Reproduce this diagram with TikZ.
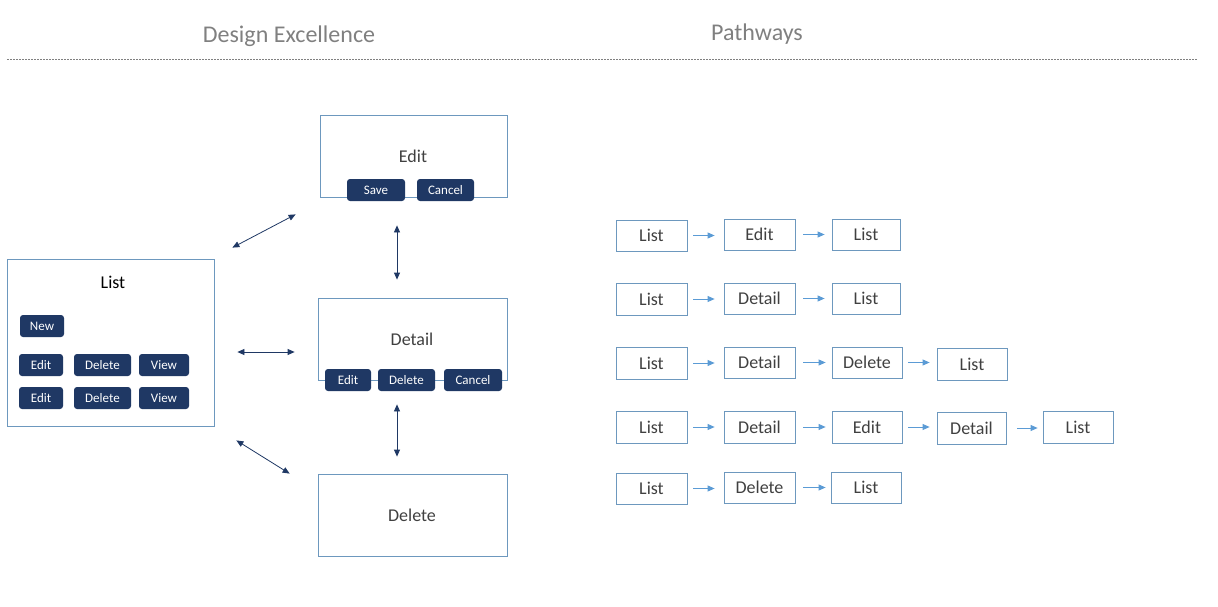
\documentclass[tikz,border=0pt]{standalone}
\usepackage{fontspec}
\setmainfont{Carlito}
\usetikzlibrary{arrows.meta}
\definecolor{bord}{RGB}{109,152,190}
\definecolor{navy}{RGB}{31,56,100}
\definecolor{parrow}{RGB}{91,155,213}
\definecolor{titlegray}{RGB}{128,128,128}
\definecolor{txt}{RGB}{64,64,64}
\newcommand\bxx[6][]{%
  \node[#1, minimum width={(#5-#3)*1pt}, minimum height={(#6-#4)*1pt}]
    (#2) at ({(#3+#5)/2},{(#4+#6)/2}) {};}
\tikzset{
  screen/.style={draw=bord, line width=0.8pt, fill=white, inner sep=0pt},
  pbx/.style={draw=bord, line width=0.8pt, inner sep=0pt},
  btn/.style={fill=navy, rounded corners=3pt, inner sep=0pt},
  btntext/.style={text=white, font=\fontsize{13}{15}\selectfont},
  boxtext/.style={text=txt, font=\fontsize{18}{21}\selectfont},
  darr/.style={navy, line width=0.8pt, {Triangle[width=6pt,length=7pt]}-{Triangle[width=6pt,length=7pt]}},
  parr/.style={parrow, line width=0.8pt, -{Triangle[width=6pt,length=7pt]}},
}
\begin{document}
\begin{tikzpicture}[x=1pt,y=-1pt]
\useasboundingbox (0,0) rectangle (1218,607);
% titles
\node[text=titlegray, font=\fontsize{24}{28}\selectfont] (t1) at (289,36) {Design Excellence};
\node[text=titlegray, font=\fontsize{24}{28}\selectfont] (t2) at (757,34) {Pathways};
\coordinate (dl) at (7,59);
\coordinate (dr) at (1198,59);
\draw[titlegray, line width=0.7pt, dash pattern=on 1.5pt off 1.5pt] (dl) -- (dr);

% Design excellence screens
\bxx[screen]{list}{7}{259}{214}{426}
\node[font=\fontsize{18}{21}\selectfont, text=black] (listt) at (113,282) {List};
\bxx[btn]{bnew}{20}{315}{64}{337}
\node[btntext] at (bnew) {New};
\bxx[btn]{be1}{19}{354}{63}{376}
\node[btntext] at (be1) {Edit};
\bxx[btn]{bd1}{74}{354}{131}{376}
\node[btntext] at (bd1) {Delete};
\bxx[btn]{bv1}{139}{354}{189}{376}
\node[btntext] at (bv1) {View};
\bxx[btn]{be2}{19}{387}{63}{409}
\node[btntext] at (be2) {Edit};
\bxx[btn]{bd2}{74}{387}{131}{409}
\node[btntext] at (bd2) {Delete};
\bxx[btn]{bv2}{139}{387}{189}{409}
\node[btntext] at (bv2) {View};

\bxx[screen]{edit}{320}{115}{507}{197}
\node[boxtext] at (413,156) {Edit};
\bxx[btn]{bsave}{347}{179}{405}{201}
\node[btntext] at (bsave) {Save};
\bxx[btn]{bcan1}{417}{179}{474}{201}
\node[btntext] at (bcan1) {Cancel};

\bxx[screen]{detail}{318}{298}{507}{380}
\node[boxtext] at (412,339) {Detail};
\bxx[btn]{bde}{325}{369}{371}{391}
\node[btntext] at (bde) {Edit};
\bxx[btn]{bdd}{378}{369}{435}{391}
\node[btntext] at (bdd) {Delete};
\bxx[btn]{bdc}{444}{369}{502}{391}
\node[btntext] at (bdc) {Cancel};

\bxx[screen]{delete}{318}{474}{507}{556}
\node[boxtext] at (412,515) {Delete};

% navy double arrows
\draw[darr] ([shift={(18,-11)}]list.north east) -- ([shift={(-24,17)}]edit.south west);
\draw[darr] ([shift={(23,9.5)}]list.east) -- ([shift={(-23,13)}]detail.west);
\draw[darr] ([shift={(22,14)}]list.south east) -- ([shift={(-28,0)}]delete.north west);
\draw[darr] ([shift={(-16.5,28)}]edit.south) -- ([shift={(-15.5,-18)}]detail.north);
\draw[darr] ([shift={(-15.5,24)}]detail.south) -- ([shift={(-15.5,-17)}]delete.north);

% Pathways
% row 1
\bxx[pbx]{a1}{616}{220}{687}{251}\node[boxtext] at (a1) {List};
\bxx[pbx]{a2}{724}{219}{795}{250}\node[boxtext] at (a2) {Edit};
\bxx[pbx]{a3}{832}{219}{900}{250}\node[boxtext] at (a3) {List};
\draw[parr] ([xshift=6pt]a1.east) -- ([xshift=-9pt]a2.west |- a1.east);
\draw[parr] ([xshift=8pt]a2.east) -- ([xshift=-7pt]a3.west |- a2.east);
% row 2
\bxx[pbx]{b1}{616}{283}{687}{315}\node[boxtext] at (b1) {List};
\bxx[pbx]{b2}{724}{283}{795}{314}\node[boxtext] at (b2) {Detail};
\bxx[pbx]{b3}{832}{283}{900}{314}\node[boxtext] at (b3) {List};
\draw[parr] ([xshift=6pt]b1.east) -- ([xshift=-9pt]b2.west |- b1.east);
\draw[parr] ([xshift=8pt]b2.east) -- ([xshift=-7pt]b3.west |- b2.east);
% row 3
\bxx[pbx]{c1}{616}{347}{687}{379}\node[boxtext] at (c1) {List};
\bxx[pbx]{c2}{724}{347}{795}{378}\node[boxtext] at (c2) {Detail};
\bxx[pbx]{c3}{832}{347}{902}{378}\node[boxtext] at (c3) {Delete};
\bxx[pbx]{c4}{937}{348}{1007}{380}\node[boxtext] at (c4) {List};
\draw[parr] ([xshift=6pt]c1.east) -- ([xshift=-9pt]c2.west |- c1.east);
\draw[parr] ([xshift=8pt]c2.east) -- ([xshift=-6pt]c3.west |- c2.east);
\draw[parr] ([xshift=6pt]c3.east) -- ([xshift=-7pt]c4.west |- c3.east);
% row 4
\bxx[pbx]{d1}{616}{411}{687}{443}\node[boxtext] at (d1) {List};
\bxx[pbx]{d2}{724}{411}{795}{443}\node[boxtext] at (d2) {Detail};
\bxx[pbx]{d3}{832}{411}{902}{443}\node[boxtext] at (d3) {Edit};
\bxx[pbx]{d4}{937}{412}{1006}{444}\node[boxtext] at (d4) {Detail};
\bxx[pbx]{d5}{1043}{411}{1113}{443}\node[boxtext] at (d5) {List};
\draw[parr] ([xshift=6pt]d1.east) -- ([xshift=-9pt]d2.west |- d1.east);
\draw[parr] ([xshift=8pt]d2.east) -- ([xshift=-6pt]d3.west |- d2.east);
\draw[parr] ([xshift=6pt]d3.east) -- ([xshift=-7pt]d4.west |- d3.east);
\draw[parr] ([xshift=11pt]d4.east) -- ([xshift=-5pt]d5.west |- d4.east);
% row 5
\bxx[pbx]{e1}{616}{473}{687}{504}\node[boxtext] at (e1) {List};
\bxx[pbx]{e2}{724}{472}{795}{503}\node[boxtext] at (e2) {Delete};
\bxx[pbx]{e3}{831}{472}{901}{503}\node[boxtext] at (e3) {List};
\draw[parr] ([xshift=6pt]e1.east) -- ([xshift=-9pt]e2.west |- e1.east);
\draw[parr] ([xshift=8pt]e2.east) -- ([xshift=-5pt]e3.west |- e2.east);
\end{tikzpicture}
\end{document}
